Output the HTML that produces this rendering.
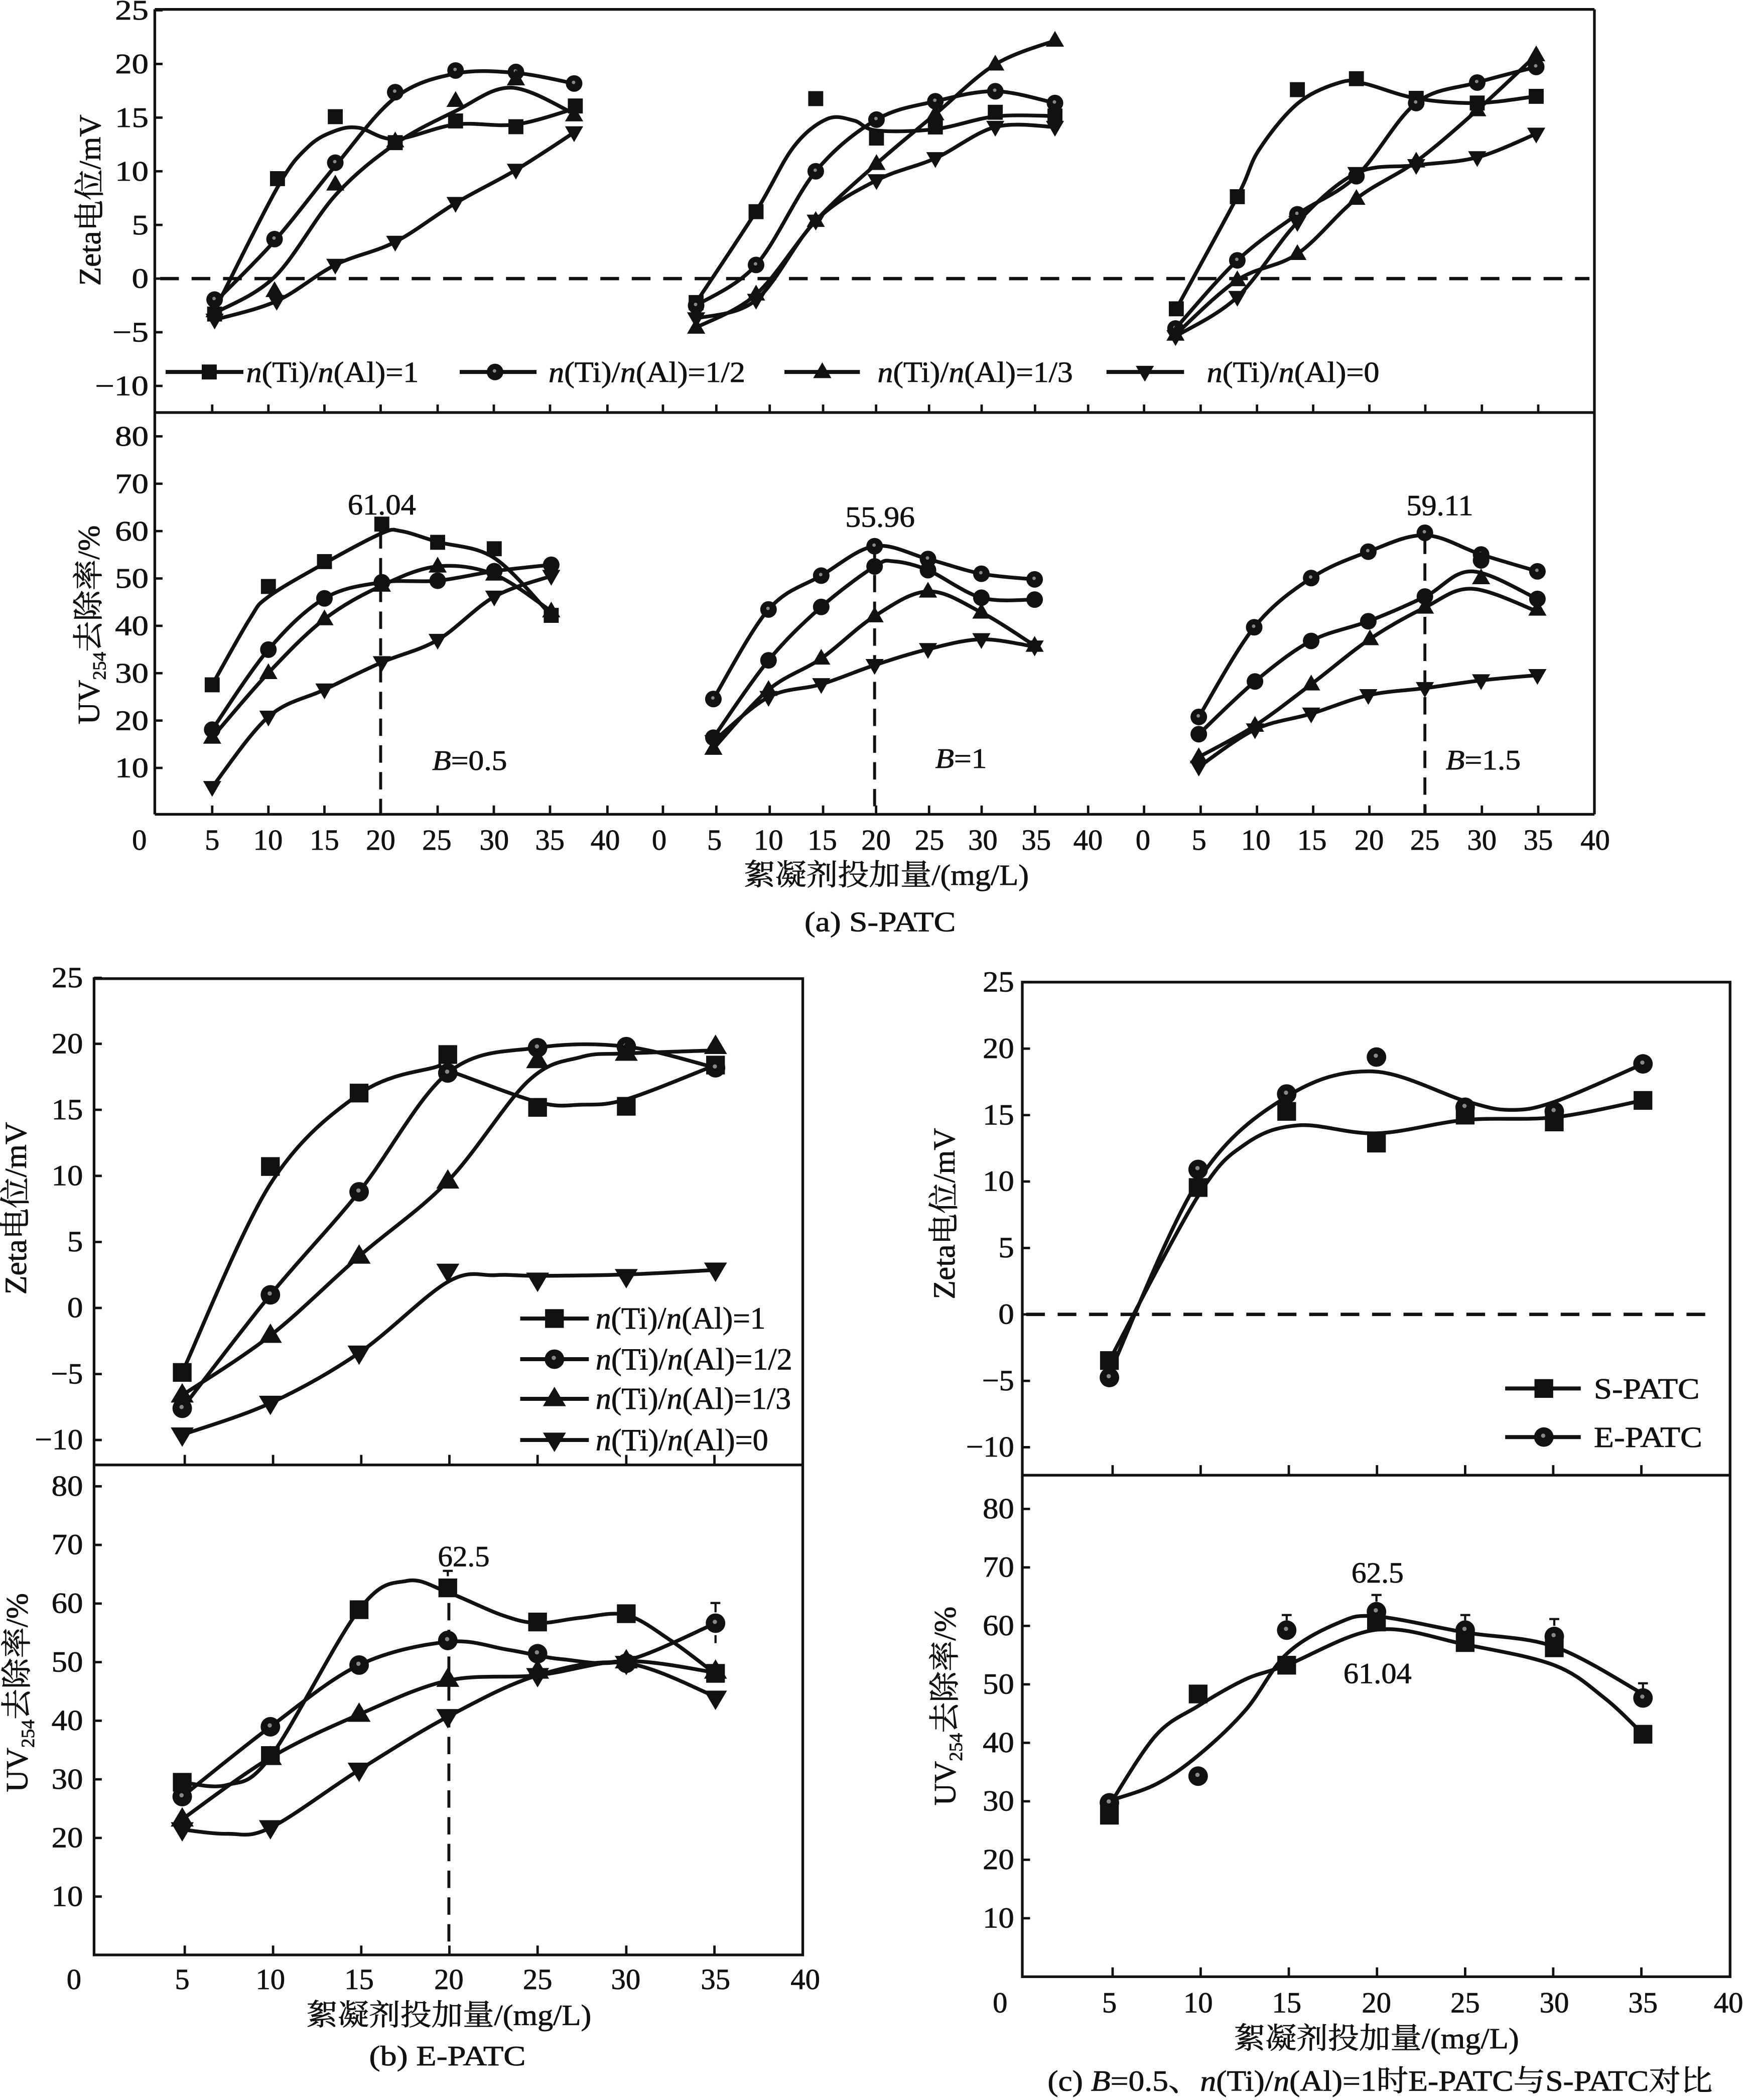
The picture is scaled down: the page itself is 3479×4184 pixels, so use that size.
<!DOCTYPE html>
<html><head><meta charset="utf-8">
<style>
html,body{margin:0;padding:0;background:#fff;}
svg{display:block;}
text{font-family:"Liberation Serif","Noto Serif CJK SC",serif;fill:#111;stroke:#111;stroke-width:0.3;}
.c{fill:none;stroke:#111;stroke-width:2.8;stroke-linejoin:round;stroke-linecap:round;}
.ax{fill:none;stroke:#111;stroke-width:2;}
.tk{stroke:#111;stroke-width:1.8;}
.dz{stroke:#111;stroke-width:2.5;stroke-dasharray:14 9.5;fill:none;}
.dv{stroke:#111;stroke-width:2.2;stroke-dasharray:13 7;fill:none;}
.lg{stroke:#111;stroke-width:3;}
</style></head>
<body>
<svg xmlns="http://www.w3.org/2000/svg" width="3479" height="4184" viewBox="0 0 1305 1569.44" preserveAspectRatio="none">
<defs>
<rect id="sa" x="-5.6" y="-5.6" width="11.2" height="11.2" fill="#111"/>
<g id="ca"><circle r="6.2" fill="#111"/><circle cx="-0.4" cy="-0.8" r="1.3" fill="#888"/></g>
<circle id="ka" r="6.2" fill="#111"/>
<polygon id="ta" points="0,-7.2 6.8,4.6 -6.8,4.6" fill="#111"/>
<polygon id="ia" points="0,7.2 6.8,-4.6 -6.8,-4.6" fill="#111"/>
<rect id="sb" x="-7" y="-7" width="14" height="14" fill="#111"/>
<g id="cb"><circle r="7.3" fill="#111"/><circle cx="-0.5" cy="-1" r="1.6" fill="#888"/></g>
<polygon id="tb" points="0,-9 8.6,5.5 -8.6,5.5" fill="#111"/>
<polygon id="ib" points="0,9 8.6,-5.5 -8.6,-5.5" fill="#111"/>
</defs>
<rect x="0" y="0" width="1305" height="1569.44" fill="#fff"/>

<!-- ============ PANEL (a) ============ -->
<path class="ax" d="M115.7,7 H1191.7 M115.7,7 V608.6 M1191.7,7 V608.6 M115.7,308.3 H1191.7 M115.7,608.6 H1191.7"/>
<g class="tk">
<path d="M115.7,7.7h5.8M115.7,47.8h5.8M115.7,87.9h5.8M115.7,128h5.8M115.7,168.1h5.8M115.7,208.2h5.8M115.7,248.3h5.8M115.7,288.4h5.8"/>
<path d="M115.7,326.1h5.8M115.7,361.5h5.8M115.7,396.9h5.8M115.7,432.3h5.8M115.7,467.7h5.8M115.7,503.1h5.8M115.7,538.5h5.8M115.7,573.9h5.8"/>
<path d="M158.6,308.3v-6M200.6,308.3v-6M242.5,308.3v-6M284.5,308.3v-6M327.1,308.3v-6M369.1,308.3v-6M411.1,308.3v-6M454,308.3v-6M495.5,308.3v-6M535.4,308.3v-6M575.3,308.3v-6M615.2,308.3v-6M654.8,308.3v-6M694.4,308.3v-6M733.7,308.3v-6M773.6,308.3v-6M813.3,308.3v-6M855.1,308.3v-6M897.4,308.3v-6M939.5,308.3v-6M981.5,308.3v-6M1023.5,308.3v-6M1065.3,308.3v-6M1107.6,308.3v-6M1149.7,308.3v-6"/>
<path d="M158.6,608.6v-6.6M200.6,608.6v-6.6M242.5,608.6v-6.6M284.5,608.6v-6.6M327.1,608.6v-6.6M369.1,608.6v-6.6M411.1,608.6v-6.6M454,608.6v-6.6M495.5,608.6v-6.6M535.4,608.6v-6.6M575.3,608.6v-6.6M615.2,608.6v-6.6M654.8,608.6v-6.6M694.4,608.6v-6.6M733.7,608.6v-6.6M773.6,608.6v-6.6M813.3,608.6v-6.6M855.1,608.6v-6.6M897.4,608.6v-6.6M939.5,608.6v-6.6M981.5,608.6v-6.6M1023.5,608.6v-6.6M1065.3,608.6v-6.6M1107.6,608.6v-6.6M1149.7,608.6v-6.6"/>
</g>
<path class="dz" d="M119.7,208.2 H1188"/>
<path class="dv" d="M284.5,397 V608.6 M653.7,409.6 V608.6 M1065,401 V608.6"/>

<g font-size="21" text-anchor="end">
<text x="111" y="14.7" textLength="25" lengthAdjust="spacingAndGlyphs">25</text>
<text x="111" y="54.8" textLength="25" lengthAdjust="spacingAndGlyphs">20</text>
<text x="111" y="94.9" textLength="25" lengthAdjust="spacingAndGlyphs">15</text>
<text x="111" y="135" textLength="25" lengthAdjust="spacingAndGlyphs">10</text>
<text x="111" y="175.1" textLength="12.5" lengthAdjust="spacingAndGlyphs">5</text>
<text x="111" y="215.2" textLength="12.5" lengthAdjust="spacingAndGlyphs">0</text>
<text x="111" y="255.3" textLength="27" lengthAdjust="spacingAndGlyphs">−5</text>
<text x="111" y="295.4" textLength="40" lengthAdjust="spacingAndGlyphs">−10</text>
<text x="111" y="333.1" textLength="25" lengthAdjust="spacingAndGlyphs">80</text>
<text x="111" y="368.5" textLength="25" lengthAdjust="spacingAndGlyphs">70</text>
<text x="111" y="403.9" textLength="25" lengthAdjust="spacingAndGlyphs">60</text>
<text x="111" y="439.3" textLength="25" lengthAdjust="spacingAndGlyphs">50</text>
<text x="111" y="474.7" textLength="25" lengthAdjust="spacingAndGlyphs">40</text>
<text x="111" y="510.1" textLength="25" lengthAdjust="spacingAndGlyphs">30</text>
<text x="111" y="545.5" textLength="25" lengthAdjust="spacingAndGlyphs">20</text>
<text x="111" y="580.9" textLength="25" lengthAdjust="spacingAndGlyphs">10</text>
</g>
<g font-size="22" text-anchor="middle">
<text x="104.2" y="635">0</text><text x="158.6" y="635">5</text><text x="200.3" y="635">10</text><text x="242.5" y="635">15</text><text x="284.5" y="635">20</text><text x="326.5" y="635">25</text><text x="369.4" y="635">30</text><text x="411" y="635">35</text><text x="452.4" y="635">40</text>
<text x="492.7" y="635">0</text><text x="534" y="635">5</text><text x="574.4" y="635">10</text><text x="614.6" y="635">15</text><text x="654.8" y="635">20</text><text x="694.7" y="635">25</text><text x="734.6" y="635">30</text><text x="774.5" y="635">35</text><text x="813.2" y="635">40</text>
<text x="854.3" y="635">0</text><text x="896.2" y="635">5</text><text x="938.6" y="635">10</text><text x="980.6" y="635">15</text><text x="1023.3" y="635">20</text><text x="1065" y="635">25</text><text x="1107.6" y="635">30</text><text x="1149.7" y="635">35</text><text x="1192.3" y="635">40</text>
</g>
<text transform="translate(75,149.6) rotate(-90)" text-anchor="middle" font-size="23" textLength="128" lengthAdjust="spacingAndGlyphs">Zeta电位/mV</text>
<text transform="translate(74,467) rotate(-90)" text-anchor="middle" font-size="23">UV<tspan font-size="14" dy="5">254</tspan><tspan dy="-5">去除率/%</tspan></text>
<text x="662.5" y="661.4" text-anchor="middle" font-size="22" textLength="213" lengthAdjust="spacingAndGlyphs">絮凝剂投加量/(mg/L)</text>
<text x="657.8" y="696" text-anchor="middle" font-size="21" textLength="113" lengthAdjust="spacingAndGlyphs">(a) S-PATC</text>

<g font-size="22" text-anchor="middle">
<text x="285.4" y="384.5" textLength="51" lengthAdjust="spacingAndGlyphs">61.04</text>
<text x="657.8" y="393.7" textLength="52" lengthAdjust="spacingAndGlyphs">55.96</text>
<text x="1076.2" y="385" textLength="50" lengthAdjust="spacingAndGlyphs">59.11</text>
</g>
<g font-size="21">
<text x="323" y="575.5" textLength="56" lengthAdjust="spacingAndGlyphs"><tspan font-style="italic">B</tspan>=0.5</text>
<text x="699" y="574" textLength="38.6" lengthAdjust="spacingAndGlyphs"><tspan font-style="italic">B</tspan>=1</text>
<text x="1080.6" y="575" textLength="56" lengthAdjust="spacingAndGlyphs"><tspan font-style="italic">B</tspan>=1.5</text>
</g>

<!-- legend (a) -->
<path class="lg" d="M123.8,278 H181.9 M343.6,278 H401 M586.3,278 H642.7 M827,278 H885"/>
<use href="#sa" x="156.4" y="278"/><use href="#ca" x="370" y="278"/><use href="#ta" x="614.6" y="278"/><use href="#ia" x="855.7" y="278"/>
<g font-size="22">
<text x="184" y="285.5" textLength="129" lengthAdjust="spacingAndGlyphs"><tspan font-style="italic">n</tspan>(Ti)/<tspan font-style="italic">n</tspan>(Al)=1</text>
<text x="410" y="285.5" textLength="147" lengthAdjust="spacingAndGlyphs"><tspan font-style="italic">n</tspan>(Ti)/<tspan font-style="italic">n</tspan>(Al)=1/2</text>
<text x="655.9" y="285.5" textLength="146" lengthAdjust="spacingAndGlyphs"><tspan font-style="italic">n</tspan>(Ti)/<tspan font-style="italic">n</tspan>(Al)=1/3</text>
<text x="902" y="285.5" textLength="129" lengthAdjust="spacingAndGlyphs"><tspan font-style="italic">n</tspan>(Ti)/<tspan font-style="italic">n</tspan>(Al)=0</text>
</g>

<!-- (a) zeta curves -->
<polyline class="c" points="160.4,232 207.4,140 230,110 250,98 268,95.5 295.4,104 340.5,93 385.6,93 430,81"/>
<polyline class="c" points="160.4,226 205.2,180 250.6,124 295.4,73 340.5,55 385.6,54.5 429.1,62.4"/>
<polyline class="c" points="160.4,234 205.2,207 250.6,146 295.4,107.6 340.5,83 382,65.5 429.1,85"/>
<polyline class="c" points="160.4,239 206.8,225 250.6,198 295.4,180.8 340.5,151.8 385.6,127 429.1,99"/>
<polyline class="c" points="520.3,226 565.1,158 593,110 618,89 638,90 655.1,97.5 699.1,96.5 743.9,87 788.5,86.7"/>
<polyline class="c" points="520.3,228.3 565.1,198 609.7,128 655.1,89.4 699.1,75.7 743.9,68.2 788.5,77"/>
<polyline class="c" points="520.3,244.8 565.1,220 609.7,165 655.1,122.4 699.1,85.3 743.9,48.1 788.5,30.3"/>
<polyline class="c" points="520.3,238 565.1,224.2 609.7,165 655.1,134.8 699.1,118.3 743.9,94.9 788.5,94.9"/>
<polyline class="c" points="879.2,230.8 924.8,147 941,112 970.3,77 1002,61.5 1020,62.5 1058.5,73.5 1104.1,77 1148.2,72"/>
<polyline class="c" points="878.6,245.5 924.8,194.6 969.7,160.2 1013.8,131.7 1058.5,77 1104.1,61.7 1148.2,50"/>
<polyline class="c" points="878.6,250 924.8,209.3 969.7,189.7 1013.8,148.5 1058.5,120.6 1104.1,82.3 1148.2,41.2"/>
<polyline class="c" points="878.6,251.4 924.8,222 969.7,166.1 1013.8,129.4 1058.5,123.5 1104.1,117.6 1148.2,100"/>
<!-- (a) UV curves -->
<polyline class="c" points="158.6,511.8 186.6,462.7 200.6,446 242.5,421 285.4,398.5 300,397 327.1,405 369.4,417 412,460"/>
<polyline class="c" points="158.6,545.3 200.6,485.5 242.5,447.2 285.4,435.2 327.1,434 369.4,426.9 412,422.1"/>
<polyline class="c" points="158.6,551.2 200.6,502.9 242.5,462.7 285.4,437.6 327.1,423.3 369.4,429.3 412,456.8"/>
<polyline class="c" points="158.6,588.3 200.6,535.7 242.5,515.4 285.4,495 327.1,478.3 369.4,446 412,430.5"/>
<polyline class="c" points="533.2,522.4 574.4,455.5 613.8,430.2 653.7,408.2 693.6,417.8 733.5,428.8 773.3,433"/>
<polyline class="c" points="533.2,551.3 574.4,493.5 613.8,453.6 653.7,423.3 668,419.5 693.6,426.1 733.5,446.7 773.3,448.1"/>
<polyline class="c" points="533.2,559.5 574.4,515.5 613.8,492.1 653.7,460.5 693.6,442 733.5,457.7 773.3,482.5"/>
<polyline class="c" points="533.2,554 574.4,521 613.8,511.4 653.7,497.1 693.6,485.2 733.5,477.8 773.3,483.3"/>
<polyline class="c" points="896,535.8 937.4,468.8 980,432 1022.7,412.3 1065,400 1107,414.4 1149.1,427"/>
<polyline class="c" points="896,548.7 938,509.3 980,479 1022.7,464.3 1065,446 1100,427 1149.1,447.6"/>
<polyline class="c" points="896,565.8 938,542.3 980,511.4 1023.9,477.6 1065,454 1100,440 1149.1,457"/>
<polyline class="c" points="896,573.1 938,545.2 980,533.4 1022.7,519.6 1065,514.3 1107,508.5 1149.1,504.6"/>

<!-- (a) markers zeta -->
<use href="#sa" x="160.4" y="234.7"/><use href="#sa" x="207.4" y="133.5"/><use href="#sa" x="250.6" y="87.2"/><use href="#sa" x="295.4" y="106.6"/><use href="#sa" x="340.5" y="90.4"/><use href="#sa" x="385.6" y="94.7"/><use href="#sa" x="430" y="79.2"/>
<use href="#ca" x="160.4" y="223.9"/><use href="#ca" x="205.2" y="178.7"/><use href="#ca" x="250.6" y="121.6"/><use href="#ca" x="295.4" y="68.9"/><use href="#ca" x="340.5" y="52.7"/><use href="#ca" x="385.6" y="53.8"/><use href="#ca" x="429.1" y="62.4"/>
<use href="#ta" x="160.4" y="232.5"/><use href="#ta" x="205.2" y="217.4"/><use href="#ta" x="250.6" y="137.8"/><use href="#ta" x="295.4" y="105.5"/><use href="#ta" x="340.5" y="75.3"/><use href="#ta" x="385.6" y="59.2"/><use href="#ta" x="429.1" y="86.1"/>
<use href="#ia" x="160.4" y="239"/><use href="#ia" x="206.8" y="225"/><use href="#ia" x="250.6" y="198"/><use href="#ia" x="295.4" y="180.8"/><use href="#ia" x="340.5" y="151.8"/><use href="#ia" x="385.6" y="127"/><use href="#ia" x="429.1" y="99"/>

<use href="#sa" x="520.3" y="226.1"/><use href="#sa" x="565.1" y="158.2"/><use href="#sa" x="609.7" y="73.7"/><use href="#sa" x="655.1" y="103.2"/><use href="#sa" x="699.1" y="94.9"/><use href="#sa" x="743.9" y="83.9"/><use href="#sa" x="788.5" y="86.7"/>
<use href="#ca" x="520.3" y="228.3"/><use href="#ca" x="565.1" y="198"/><use href="#ca" x="609.7" y="128"/><use href="#ca" x="655.1" y="89.4"/><use href="#ca" x="699.1" y="75.7"/><use href="#ca" x="743.9" y="68.2"/><use href="#ca" x="788.5" y="77"/>
<use href="#ta" x="520.3" y="244.8"/><use href="#ta" x="565.1" y="220"/><use href="#ta" x="609.7" y="165"/><use href="#ta" x="655.1" y="122.4"/><use href="#ta" x="699.1" y="85.3"/><use href="#ta" x="743.9" y="48.1"/><use href="#ta" x="788.5" y="30.3"/>
<use href="#ia" x="520.3" y="238"/><use href="#ia" x="565.1" y="224.2"/><use href="#ia" x="609.7" y="165"/><use href="#ia" x="655.1" y="134.8"/><use href="#ia" x="699.1" y="118.3"/><use href="#ia" x="743.9" y="94.9"/><use href="#ia" x="788.5" y="94.9"/>

<use href="#sa" x="879.2" y="230.8"/><use href="#sa" x="924.8" y="147"/><use href="#sa" x="969.7" y="67"/><use href="#sa" x="1013.8" y="58.8"/><use href="#sa" x="1058.5" y="73.5"/><use href="#sa" x="1104.1" y="77"/><use href="#sa" x="1148.2" y="72"/>
<use href="#ca" x="878.6" y="245.5"/><use href="#ca" x="924.8" y="194.6"/><use href="#ca" x="969.7" y="160.2"/><use href="#ca" x="1013.8" y="131.7"/><use href="#ca" x="1058.5" y="77"/><use href="#ca" x="1104.1" y="61.7"/><use href="#ca" x="1148.2" y="50"/>
<use href="#ta" x="878.6" y="250"/><use href="#ta" x="924.8" y="209.3"/><use href="#ta" x="969.7" y="189.7"/><use href="#ta" x="1013.8" y="148.5"/><use href="#ta" x="1058.5" y="120.6"/><use href="#ta" x="1104.1" y="82.3"/><use href="#ta" x="1148.2" y="41.2"/>
<use href="#ia" x="878.6" y="251.4"/><use href="#ia" x="924.8" y="222"/><use href="#ia" x="969.7" y="166.1"/><use href="#ia" x="1013.8" y="129.4"/><use href="#ia" x="1058.5" y="123.5"/><use href="#ia" x="1104.1" y="117.6"/><use href="#ia" x="1148.2" y="100"/>

<!-- (a) markers UV -->
<use href="#sa" x="158.6" y="511.8"/><use href="#sa" x="200.6" y="438.3"/><use href="#sa" x="242.5" y="419.7"/><use href="#sa" x="285.4" y="391.7"/><use href="#sa" x="327.1" y="405.3"/><use href="#sa" x="369.4" y="410.1"/><use href="#sa" x="412" y="459.9"/>
<use href="#ka" x="158.6" y="545.3"/><use href="#ka" x="200.6" y="485.5"/><use href="#ka" x="242.5" y="447.2"/><use href="#ka" x="285.4" y="435.2"/><use href="#ka" x="327.1" y="434"/><use href="#ka" x="369.4" y="426.9"/><use href="#ka" x="412" y="422.1"/>
<use href="#ta" x="158.6" y="551.2"/><use href="#ta" x="200.6" y="502.9"/><use href="#ta" x="242.5" y="462.7"/><use href="#ta" x="285.4" y="437.6"/><use href="#ta" x="327.1" y="423.3"/><use href="#ta" x="369.4" y="429.3"/><use href="#ta" x="412" y="456.8"/>
<use href="#ia" x="158.6" y="588.3"/><use href="#ia" x="200.6" y="535.7"/><use href="#ia" x="242.5" y="515.4"/><use href="#ia" x="285.4" y="495"/><use href="#ia" x="327.1" y="478.3"/><use href="#ia" x="369.4" y="446"/><use href="#ia" x="412" y="430.5"/>

<use href="#ca" x="533.2" y="522.4"/><use href="#ca" x="574.4" y="455.5"/><use href="#ca" x="613.8" y="430.2"/><use href="#ca" x="653.7" y="408.2"/><use href="#ca" x="693.6" y="417.8"/><use href="#ca" x="733.5" y="428.8"/><use href="#ca" x="773.3" y="433"/>
<use href="#ka" x="533.2" y="551.3"/><use href="#ka" x="574.4" y="493.5"/><use href="#ka" x="613.8" y="453.6"/><use href="#ka" x="653.7" y="423.3"/><use href="#ka" x="693.6" y="426.1"/><use href="#ka" x="733.5" y="446.7"/><use href="#ka" x="773.3" y="448.1"/>
<use href="#ta" x="533.2" y="559.5"/><use href="#ta" x="574.4" y="515.5"/><use href="#ta" x="613.8" y="492.1"/><use href="#ta" x="653.7" y="460.5"/><use href="#ta" x="693.6" y="442"/><use href="#ta" x="733.5" y="457.7"/><use href="#ta" x="773.3" y="482.5"/>
<use href="#ia" x="533.2" y="554"/><use href="#ia" x="574.4" y="521"/><use href="#ia" x="613.8" y="511.4"/><use href="#ia" x="653.7" y="497.1"/><use href="#ia" x="693.6" y="485.2"/><use href="#ia" x="733.5" y="477.8"/><use href="#ia" x="773.3" y="483.3"/>

<use href="#ca" x="896" y="535.8"/><use href="#ca" x="937.4" y="468.8"/><use href="#ca" x="980" y="432"/><use href="#ca" x="1022.7" y="412.3"/><use href="#ca" x="1065" y="398.2"/><use href="#ca" x="1107" y="414.4"/><use href="#ca" x="1149.1" y="427"/>
<use href="#ka" x="896" y="548.7"/><use href="#ka" x="938" y="509.3"/><use href="#ka" x="980" y="479"/><use href="#ka" x="1022.7" y="464.3"/><use href="#ka" x="1065" y="445.8"/><use href="#ka" x="1107" y="418.8"/><use href="#ka" x="1149.1" y="447.6"/>
<use href="#ta" x="896" y="565.8"/><use href="#ta" x="938" y="542.3"/><use href="#ta" x="980" y="511.4"/><use href="#ta" x="1023.9" y="477.6"/><use href="#ta" x="1065" y="454"/><use href="#ta" x="1107" y="432"/><use href="#ta" x="1149.1" y="455.5"/>
<use href="#ia" x="896" y="573.1"/><use href="#ia" x="938" y="545.2"/><use href="#ia" x="980" y="533.4"/><use href="#ia" x="1022.7" y="519.6"/><use href="#ia" x="1065" y="514.3"/><use href="#ia" x="1107" y="508.5"/><use href="#ia" x="1149.1" y="504.6"/>

<!-- ============ PANEL (b) ============ -->
<path class="ax" d="M70.3,731.4 H600 V1461 H70.3 Z M70.3,1094.8 H600"/>
<g class="tk">
<path d="M70.3,730.8h5.8M70.3,780.1h5.8M70.3,829.4h5.8M70.3,878.8h5.8M70.3,928.2h5.8M70.3,977.5h5.8M70.3,1026.9h5.8M70.3,1076.2h5.8"/>
<path d="M70.3,1110.8h5.8M70.3,1154.6h5.8M70.3,1198.4h5.8M70.3,1242.2h5.8M70.3,1286h5.8M70.3,1329.8h5.8M70.3,1373.6h5.8M70.3,1417.4h5.8"/>
<path d="M138.1,1094.8v-7.5M204.1,1094.8v-7.5M270,1094.8v-7.5M335.9,1094.8v-7.5M401.8,1094.8v-7.5M468.1,1094.8v-7.5M534,1094.8v-7.5"/>
<path d="M138.1,1461v-7M204.1,1461v-7M270,1461v-7M335.9,1461v-7M401.8,1461v-7M468.1,1461v-7M534,1461v-7"/>
</g>
<path class="dv" d="M335.5,1198 V1452"/>
<g font-size="22" text-anchor="end">
<text x="62" y="737.8" textLength="23.5" lengthAdjust="spacingAndGlyphs">25</text>
<text x="62" y="787.1" textLength="23.5" lengthAdjust="spacingAndGlyphs">20</text>
<text x="62" y="836.4" textLength="23.5" lengthAdjust="spacingAndGlyphs">15</text>
<text x="62" y="885.8" textLength="23.5" lengthAdjust="spacingAndGlyphs">10</text>
<text x="62" y="935.2" textLength="11.8" lengthAdjust="spacingAndGlyphs">5</text>
<text x="62" y="984.5" textLength="11.8" lengthAdjust="spacingAndGlyphs">0</text>
<text x="62" y="1033.9" textLength="24" lengthAdjust="spacingAndGlyphs">−5</text>
<text x="62" y="1083.2" textLength="36" lengthAdjust="spacingAndGlyphs">−10</text>
<text x="62" y="1117.8" textLength="23.5" lengthAdjust="spacingAndGlyphs">80</text>
<text x="62" y="1161.6" textLength="23.5" lengthAdjust="spacingAndGlyphs">70</text>
<text x="62" y="1205.4" textLength="23.5" lengthAdjust="spacingAndGlyphs">60</text>
<text x="62" y="1249.2" textLength="23.5" lengthAdjust="spacingAndGlyphs">50</text>
<text x="62" y="1293" textLength="23.5" lengthAdjust="spacingAndGlyphs">40</text>
<text x="62" y="1336.8" textLength="23.5" lengthAdjust="spacingAndGlyphs">30</text>
<text x="62" y="1380.6" textLength="23.5" lengthAdjust="spacingAndGlyphs">20</text>
<text x="62" y="1424.4" textLength="23.5" lengthAdjust="spacingAndGlyphs">10</text>
</g>
<g font-size="22" text-anchor="middle">
<text x="55.3" y="1486.5">0</text><text x="136.2" y="1486.5">5</text><text x="202.1" y="1486.5">10</text><text x="268.4" y="1486.5">15</text><text x="335.5" y="1486.5">20</text><text x="401.8" y="1486.5">25</text><text x="467.7" y="1486.5">30</text><text x="534.8" y="1486.5">35</text><text x="601.9" y="1486.5">40</text>
</g>
<text transform="translate(19.5,903) rotate(-90)" text-anchor="middle" font-size="23" textLength="129" lengthAdjust="spacingAndGlyphs">Zeta电位/mV</text>
<text transform="translate(20.5,1265) rotate(-90)" text-anchor="middle" font-size="23">UV<tspan font-size="14" dy="5">254</tspan><tspan dy="-5">去除率/%</tspan></text>
<text x="335.5" y="1513.3" text-anchor="middle" font-size="22" textLength="213" lengthAdjust="spacingAndGlyphs">絮凝剂投加量/(mg/L)</text>
<text x="334.4" y="1543.5" text-anchor="middle" font-size="21" textLength="117" lengthAdjust="spacingAndGlyphs">(b) E-PATC</text>
<text x="346.6" y="1170.5" text-anchor="middle" font-size="22" textLength="38.7" lengthAdjust="spacingAndGlyphs">62.5</text>

<!-- legend (b) -->
<path class="lg" d="M388.8,985.4 H440.1 M388.8,1015.8 H440.1 M388.8,1045.4 H440.1 M388.8,1076.2 H440.1"/>
<use href="#sb" x="414.4" y="985.4"/><use href="#cb" x="414.4" y="1015.8"/><use href="#tb" x="414.4" y="1045.4"/><use href="#ib" x="414.4" y="1076.2"/>
<g font-size="23">
<text x="445.2" y="993" textLength="127" lengthAdjust="spacingAndGlyphs"><tspan font-style="italic">n</tspan>(Ti)/<tspan font-style="italic">n</tspan>(Al)=1</text>
<text x="445.2" y="1023.4" textLength="147" lengthAdjust="spacingAndGlyphs"><tspan font-style="italic">n</tspan>(Ti)/<tspan font-style="italic">n</tspan>(Al)=1/2</text>
<text x="445.2" y="1053" textLength="146" lengthAdjust="spacingAndGlyphs"><tspan font-style="italic">n</tspan>(Ti)/<tspan font-style="italic">n</tspan>(Al)=1/3</text>
<text x="445.2" y="1083.8" textLength="129" lengthAdjust="spacingAndGlyphs"><tspan font-style="italic">n</tspan>(Ti)/<tspan font-style="italic">n</tspan>(Al)=0</text>
</g>

<!-- (b) curves -->
<polyline class="c" points="136.2,1025.7 202.1,884.8 268.4,817.7 323.7,798 334.7,800 401.8,823.6 434.2,825.6 468.1,821.6 534.8,796"/>
<polyline class="c" points="136.2,1052.5 202.1,967.7 268.4,890.7 334.7,801.9 401.8,783 468.1,782.2 534.8,798"/>
<polyline class="c" points="136.2,1042.7 202.1,998.1 268.4,938.9 334.7,882.8 394.7,808 434.2,790 468.1,787.3 534.8,785"/>
<polyline class="c" points="136.2,1072.3 202.1,1048.6 268.4,1011.1 334.7,958 370,953 401.8,953.5 468.1,952.5 534.8,949.1"/>
<polyline class="c" points="136.2,1332 169.7,1334 202.1,1313 268.4,1203 303.9,1181.5 334.7,1190 375,1207 401.8,1213 434.2,1209 468.1,1207 501.3,1226 534.8,1251"/>
<polyline class="c" points="136.2,1342.7 202.1,1290.5 268.4,1244.4 334.7,1227 380,1233 420,1240 468.1,1241 534.8,1213.1"/>
<polyline class="c" points="136.2,1359.6 202.1,1313.6 268.4,1281.3 334.7,1256 401.8,1252 468.1,1241.4 534.8,1250"/>
<polyline class="c" points="136.2,1367.3 170,1370.5 202.1,1366 268.4,1322.8 334.7,1283 401.8,1252.1 468.1,1243 534.8,1268"/>

<!-- (b) markers -->
<use href="#sb" x="136.2" y="1025.7"/><use href="#sb" x="202.1" y="871.8"/><use href="#sb" x="268.4" y="816.9"/><use href="#sb" x="334.7" y="788.1"/><use href="#sb" x="401.8" y="827.6"/><use href="#sb" x="468.1" y="826.8"/><use href="#sb" x="534.8" y="796"/>
<use href="#cb" x="136.2" y="1052.5"/><use href="#cb" x="202.1" y="967.7"/><use href="#cb" x="268.4" y="890.7"/><use href="#cb" x="334.7" y="801.9"/><use href="#cb" x="401.8" y="783"/><use href="#cb" x="468.1" y="782.2"/><use href="#cb" x="534.8" y="798"/>
<use href="#tb" x="136.2" y="1042.7"/><use href="#tb" x="202.1" y="998.1"/><use href="#tb" x="268.4" y="938.9"/><use href="#tb" x="334.7" y="882.8"/><use href="#tb" x="401.8" y="792.8"/><use href="#tb" x="468.1" y="787.3"/><use href="#tb" x="534.8" y="782.2"/>
<use href="#ib" x="136.2" y="1072.3"/><use href="#ib" x="202.1" y="1048.6"/><use href="#ib" x="268.4" y="1011.1"/><use href="#ib" x="334.7" y="949.9"/><use href="#ib" x="401.8" y="956.6"/><use href="#ib" x="468.1" y="953.9"/><use href="#ib" x="534.8" y="949.1"/>

<use href="#sb" x="136.2" y="1332"/><use href="#sb" x="202.1" y="1312"/><use href="#sb" x="268.4" y="1203"/><use href="#sb" x="334.7" y="1186.7"/><use href="#sb" x="401.8" y="1212.2"/><use href="#sb" x="468.1" y="1206"/><use href="#sb" x="534.8" y="1250.6"/>
<use href="#cb" x="136.2" y="1342.7"/><use href="#cb" x="202.1" y="1290.5"/><use href="#cb" x="268.4" y="1244.4"/><use href="#cb" x="334.7" y="1226"/><use href="#cb" x="401.8" y="1235.9"/><use href="#cb" x="468.1" y="1243"/><use href="#cb" x="534.8" y="1213.1"/>
<use href="#tb" x="136.2" y="1359.6"/><use href="#tb" x="202.1" y="1313.6"/><use href="#tb" x="268.4" y="1281.3"/><use href="#tb" x="334.7" y="1255.2"/><use href="#tb" x="401.8" y="1249.1"/><use href="#tb" x="468.1" y="1241.4"/><use href="#tb" x="534.8" y="1249.1"/>
<use href="#ib" x="136.2" y="1367.3"/><use href="#ib" x="202.1" y="1365.8"/><use href="#ib" x="268.4" y="1322.8"/><use href="#ib" x="334.7" y="1282.8"/><use href="#ib" x="401.8" y="1252.1"/><use href="#ib" x="468.1" y="1243"/><use href="#ib" x="534.8" y="1269"/>
<path d="M334.7,1178v-4M331,1174h7.4M534.8,1205v-7M531,1198h7.4M534.8,1222v6" stroke="#111" stroke-width="1.6" fill="none"/>

<!-- ============ PANEL (c) ============ -->
<path class="ax" d="M764.1,734 H1293.1 V1477.3 H764.1 Z M764.1,1102.5 H1293.1"/>
<g class="tk">
<path d="M764.1,734h5.8M764.1,783.7h5.8M764.1,833.4h5.8M764.1,883h5.8M764.1,932.7h5.8M764.1,982.3h5.8M764.1,1032h5.8M764.1,1081.6h5.8"/>
<path d="M764.1,1127.7h5.8M764.1,1171.4h5.8M764.1,1215.1h5.8M764.1,1258.8h5.8M764.1,1302.5h5.8M764.1,1346.2h5.8M764.1,1389.9h5.8M764.1,1433.6h5.8"/>
<path d="M831.6,1102.5v-7.5M897.4,1102.5v-7.5M963.3,1102.5v-7.5M1029.2,1102.5v-7.5M1095.1,1102.5v-7.5M1160.9,1102.5v-7.5M1226.8,1102.5v-7.5"/>
<path d="M831.6,1477.3v-7M897.4,1477.3v-7M963.3,1477.3v-7M1029.2,1477.3v-7M1095.1,1477.3v-7M1160.9,1477.3v-7M1226.8,1477.3v-7"/>
</g>
<path class="dz" d="M767,982.3 H1280"/>
<g font-size="22" text-anchor="end">
<text x="758" y="741" textLength="23.5" lengthAdjust="spacingAndGlyphs">25</text>
<text x="758" y="790.7" textLength="23.5" lengthAdjust="spacingAndGlyphs">20</text>
<text x="758" y="840.4" textLength="23.5" lengthAdjust="spacingAndGlyphs">15</text>
<text x="758" y="890" textLength="23.5" lengthAdjust="spacingAndGlyphs">10</text>
<text x="758" y="939.7" textLength="11.8" lengthAdjust="spacingAndGlyphs">5</text>
<text x="758" y="989.3" textLength="11.8" lengthAdjust="spacingAndGlyphs">0</text>
<text x="758" y="1039" textLength="24" lengthAdjust="spacingAndGlyphs">−5</text>
<text x="758" y="1088.6" textLength="36" lengthAdjust="spacingAndGlyphs">−10</text>
<text x="758" y="1134.7" textLength="23.5" lengthAdjust="spacingAndGlyphs">80</text>
<text x="758" y="1178.4" textLength="23.5" lengthAdjust="spacingAndGlyphs">70</text>
<text x="758" y="1222.1" textLength="23.5" lengthAdjust="spacingAndGlyphs">60</text>
<text x="758" y="1265.8" textLength="23.5" lengthAdjust="spacingAndGlyphs">50</text>
<text x="758" y="1309.5" textLength="23.5" lengthAdjust="spacingAndGlyphs">40</text>
<text x="758" y="1353.2" textLength="23.5" lengthAdjust="spacingAndGlyphs">30</text>
<text x="758" y="1396.9" textLength="23.5" lengthAdjust="spacingAndGlyphs">20</text>
<text x="758" y="1440.6" textLength="23.5" lengthAdjust="spacingAndGlyphs">10</text>
</g>
<g font-size="22" text-anchor="middle">
<text x="747.5" y="1504">0</text><text x="829.2" y="1504">5</text><text x="895.5" y="1504">10</text><text x="961.7" y="1504">15</text><text x="1028.8" y="1504">20</text><text x="1095.1" y="1504">25</text><text x="1161.7" y="1504">30</text><text x="1228" y="1504">35</text><text x="1291.9" y="1504">40</text>
</g>
<text transform="translate(713.5,907) rotate(-90)" text-anchor="middle" font-size="23" textLength="128" lengthAdjust="spacingAndGlyphs">Zeta电位/mV</text>
<text transform="translate(714,1275) rotate(-90)" text-anchor="middle" font-size="23">UV<tspan font-size="14" dy="5">254</tspan><tspan dy="-5">去除率/%</tspan></text>
<text x="1028.8" y="1530.8" text-anchor="middle" font-size="22" textLength="213" lengthAdjust="spacingAndGlyphs">絮凝剂投加量/(mg/L)</text>
<text x="1031.5" y="1562.5" text-anchor="middle" font-size="22" textLength="497" lengthAdjust="spacingAndGlyphs">(c) <tspan font-style="italic">B</tspan>=0.5、<tspan font-style="italic">n</tspan>(Ti)/<tspan font-style="italic">n</tspan>(Al)=1时E-PATC与S-PATC对比</text>
<text x="1029.6" y="1182.8" text-anchor="middle" font-size="22" textLength="39" lengthAdjust="spacingAndGlyphs">62.5</text>
<text x="1029.6" y="1258" text-anchor="middle" font-size="22" textLength="51" lengthAdjust="spacingAndGlyphs">61.04</text>

<!-- legend (c) -->
<path class="lg" d="M1125,1037.7 H1181.5 M1125,1074 H1181.5"/>
<use href="#sb" x="1153.9" y="1037.7"/><use href="#cb" x="1153.9" y="1074"/>
<text x="1191.3" y="1045.2" font-size="22" textLength="79" lengthAdjust="spacingAndGlyphs">S-PATC</text>
<text x="1191.3" y="1081.5" font-size="22" textLength="81" lengthAdjust="spacingAndGlyphs">E-PATC</text>

<!-- (c) curves -->
<polyline class="c" points="829.2,1016.8 895.5,893.8 930.9,855 970.4,841 1028.8,847 1095.1,837 1161.7,835 1228,822.4"/>
<polyline class="c" points="829.2,1026.7 895.5,882.7 961.7,819.6 1025.6,800.7 1095.1,822.8 1128,829.5 1161.7,823.5 1228,795.1"/>
<polyline class="c" points="829.2,1349 863.9,1297 895.5,1275 931,1255 961.7,1244.5 1028.8,1218 1095.1,1229 1161.7,1244.5 1199.2,1269 1228,1296"/>
<polyline class="c" points="829.2,1345.8 863.9,1333.5 895.5,1312 931,1278 961.7,1236 1000,1213 1028.8,1208 1095.1,1220 1161.7,1230.6 1228,1266"/>

<!-- (c) markers -->
<use href="#sb" x="829.2" y="1016.8"/><use href="#sb" x="895.5" y="887.5"/><use href="#sb" x="961.7" y="830.6"/><use href="#sb" x="1028.8" y="854.3"/><use href="#sb" x="1095.1" y="833.4"/><use href="#sb" x="1161.7" y="838.5"/><use href="#sb" x="1228" y="822.4"/>
<use href="#cb" x="829.2" y="1029.5"/><use href="#cb" x="895.5" y="874"/><use href="#cb" x="961.7" y="817.6"/><use href="#cb" x="1028.8" y="790"/><use href="#cb" x="1095.1" y="827.5"/><use href="#cb" x="1161.7" y="830.6"/><use href="#cb" x="1228" y="795.1"/>
<use href="#sb" x="829.2" y="1356.6"/><use href="#sb" x="895.5" y="1266"/><use href="#sb" x="961.7" y="1244.5"/><use href="#sb" x="1028.8" y="1212.2"/><use href="#sb" x="1095.1" y="1227.6"/><use href="#sb" x="1161.7" y="1231.5"/><use href="#sb" x="1228" y="1296.1"/>
<use href="#cb" x="829.2" y="1347.3"/><use href="#cb" x="895.5" y="1327.4"/><use href="#cb" x="961.7" y="1218.3"/><use href="#cb" x="1028.8" y="1204.5"/><use href="#cb" x="1095.1" y="1218.3"/><use href="#cb" x="1161.7" y="1223"/><use href="#cb" x="1228" y="1269"/>
<path d="M1028.8,1197v-5M1025,1192h7.6M961.7,1211v-4M958,1207h7.4M1095.1,1211v-4M1091.5,1207h7.4M1161.7,1215v-5M1158,1210h7.4M1228,1262v-4M1224.3,1258h7.4" stroke="#111" stroke-width="1.6" fill="none"/>
</svg>
<script>
(function(){
var pls=document.querySelectorAll('polyline.c');
for(var k=0;k<pls.length;k++){
 var pl=pls[k];
 var a=pl.getAttribute('points').trim().split(/\s+/).map(function(s){return s.split(',').map(Number);});
 var d='M'+a[0][0]+','+a[0][1];
 for(var i=0;i<a.length-1;i++){
  var p0=a[i-1]||a[i],p1=a[i],p2=a[i+1],p3=a[i+2]||a[i+1];
  d+=' C'+(p1[0]+(p2[0]-p0[0])/6).toFixed(2)+','+(p1[1]+(p2[1]-p0[1])/6).toFixed(2)+' '+(p2[0]-(p3[0]-p1[0])/6).toFixed(2)+','+(p2[1]-(p3[1]-p1[1])/6).toFixed(2)+' '+p2[0]+','+p2[1];
 }
 var p=document.createElementNS('http://www.w3.org/2000/svg','path');
 p.setAttribute('d',d);p.setAttribute('class','c');
 pl.parentNode.replaceChild(p,pl);
}
})();
</script>
</body></html>
